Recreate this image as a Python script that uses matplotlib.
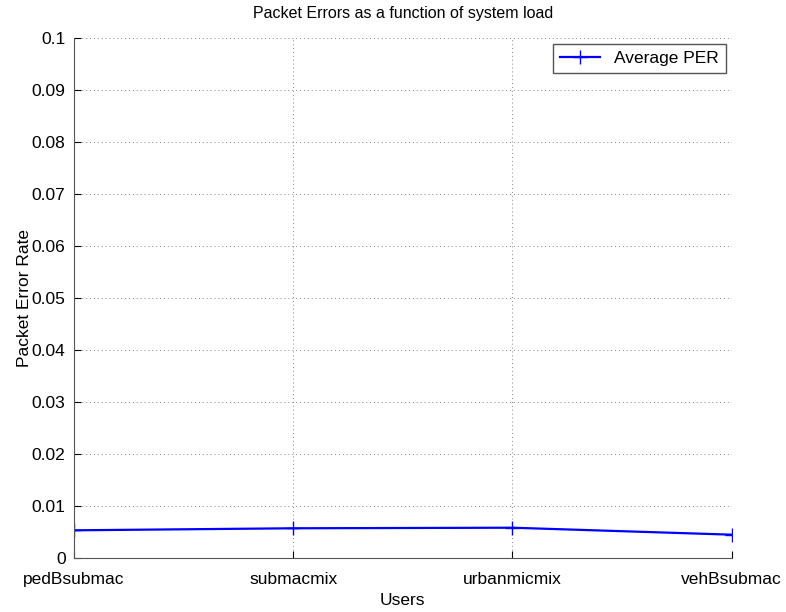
import matplotlib
matplotlib.use("Agg")
import matplotlib.pyplot as plt

plt.rcParams['font.family'] = ['Liberation Sans', 'DejaVu Sans']

usuarios = ["pedBsubmac", "submacmix", "urbanmicmix", "vehBsubmac"]
per_medio = [0.00535, 0.00574, 0.00585, 0.00451]

fig = plt.figure(figsize=(7.86, 6.12), dpi=100)
ax = fig.add_axes([0.094, 0.088, 0.837, 0.850])

x = list(range(len(usuarios)))
ax.plot(x, per_medio, color="blue", marker="+", markersize=10, linewidth=1.6,
        label="Average PER")

ax.set_xlim(0, len(usuarios) - 1)
ax.set_ylim(0, 0.1)
ax.set_xticks(x)
ax.set_xticklabels(usuarios)
ax.set_yticks([i / 100 for i in range(11)])
ax.set_yticklabels(["0"] + ["%g" % (i / 100) for i in range(1, 11)])
ax.tick_params(labelsize=12.5, direction="in", length=5)
ax.tick_params(axis="x", pad=10)
ax.tick_params(axis="y", pad=6)
ax.grid(True, linestyle=(0, (1, 3)), color="#888888", linewidth=0.7)
for s in ax.spines.values():
    s.set_linewidth(0.8)
    s.set_color("#555555")
ax.spines["top"].set_visible(False)
ax.spines["right"].set_visible(False)

ax.set_title("Packet Errors as a function of system load", fontsize=11.5, pad=14)
ax.set_xlabel("Users", fontsize=12.5, labelpad=4)
ax.set_ylabel("Packet Error Rate", fontsize=12.5, labelpad=0)

leg = ax.legend(loc="upper right", fontsize=12.5, fancybox=False, framealpha=1,
                handlelength=2.3, borderpad=0.4, borderaxespad=0,
                bbox_to_anchor=(0.991, 0.988))
leg.get_frame().set_edgecolor("#555555")

fig.savefig("out.png", dpi=100)
